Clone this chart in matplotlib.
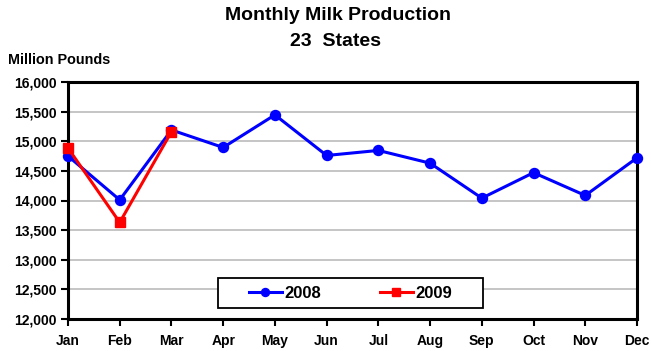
import matplotlib.pyplot as plt
from matplotlib.patches import Rectangle

plt.rcParams["font.family"] = ["Liberation Sans", "DejaVu Sans"]
plt.rcParams["font.weight"] = "bold"

months = ["Jan", "Feb", "Mar", "Apr", "May", "Jun",
          "Jul", "Aug", "Sep", "Oct", "Nov", "Dec"]
prod_2008 = [14750, 14010, 15190, 14895, 15445, 14760,
             14845, 14630, 14040, 14470, 14085, 14720]
prod_2009 = [14885, 13630, 15160]
y_ticks = list(range(12000, 16001, 500))

W, H = 651, 351
fig = plt.figure(figsize=(W / 100, H / 100), dpi=100)
ax = fig.add_axes([68 / W, 1 - 319 / H, (637 - 68) / W, (319 - 82) / H])

x = list(range(len(months)))
ax.plot(x, prod_2008, color="#0000ff", lw=2.2, marker="o", ms=7.2,
        label="2008", clip_on=False, zorder=3)
ax.plot(x[:len(prod_2009)], prod_2009, color="#ff0000", lw=2.2, marker="s",
        ms=7.8, label="2009", clip_on=False, zorder=4)

ax.set_xlim(0, len(months) - 1)
ax.set_ylim(12000, 16000)
ax.set_xticks(x)
ax.set_xticklabels(months)
ax.set_yticks(y_ticks)
ax.set_yticklabels([f"{v:,}" for v in y_ticks])
ax.tick_params(axis="both", labelsize=10, length=5, width=1.5, direction="out")
ax.tick_params(axis="x", pad=6)
ax.tick_params(axis="y", pad=3)

ax.grid(axis="y", color="#c0c0c0", lw=1.3)
ax.set_axisbelow(True)
for side in ax.spines.values():
    side.set_linewidth(2.2)
    side.set_color("black")

# legend box drawn by hand so the side padding can be wider than the top/bottom
box = Rectangle((218 / W, 1 - 308 / H), 265 / W, 30 / H,
                transform=fig.transFigure, facecolor="white",
                edgecolor="black", lw=1.3, zorder=5, clip_on=False)
ax.add_patch(box)
leg = ax.legend(ncol=2, loc="center", bbox_to_anchor=(350.5 / W, 1 - 293 / H),
                bbox_transform=fig.transFigure, fontsize=12, frameon=False,
                handlelength=2.0, handletextpad=0.15, columnspacing=3.5,
                markerscale=0.8)
leg.set_zorder(6)

fig.text(338 / W, 1 - 15 / H, "Monthly Milk Production", ha="center",
         va="center", fontsize=14, fontweight="bold")
fig.text(336 / W, 1 - 42 / H, "23  States", ha="center", va="center",
         fontsize=14, fontweight="bold")
fig.text(8 / W, 1 - 60 / H, "Million Pounds", ha="left", va="center",
         fontsize=10.4, fontweight="bold")

fig.savefig("out.png", dpi=100)
